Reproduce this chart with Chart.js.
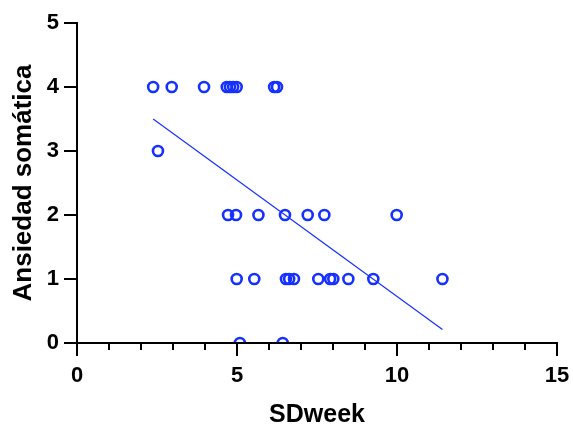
<!DOCTYPE html>
<html>
<head>
<meta charset="utf-8">
<script src="https://cdn.jsdelivr.net/npm/chart.js@4.4.0/dist/chart.umd.min.js"></script>
<style>
  html, body { margin: 0; padding: 0; background: #fff; }
  #wrap { width: 573px; height: 428px; }
</style>
</head>
<body>
<div id="wrap"><canvas id="chart" width="573" height="428"></canvas></div>
<script>
// data
const sdWeek = [2.38, 2.96, 3.97, 4.68, 4.78, 4.88, 4.99, 6.16, 6.25,
                2.53,
                4.72, 4.97, 5.67, 6.50, 7.21, 7.73, 9.99,
                4.99, 5.54, 6.53, 6.63, 6.78, 7.54, 7.91, 8.01, 8.48, 9.26, 11.42,
                5.09, 6.43];
const ansiedad = [4, 4, 4, 4, 4, 4, 4, 4, 4,
                  3,
                  2, 2, 2, 2, 2, 2, 2,
                  1, 1, 1, 1, 1, 1, 1, 1, 1, 1, 1,
                  0, 0];
const fitLine = [{ x: 2.38, y: 3.50 }, { x: 11.42, y: 0.21 }];
const xTicks = [0, 5, 10, 15];
const yTicks = [0, 1, 2, 3, 4, 5];

const blue = 'rgb(22, 48, 255)';
const font = 'Liberation Sans, Arial, Helvetica, sans-serif';

// axis ticks (major + minor) drawn from the scales
const tickPlugin = {
  id: 'ticks',
  afterDraw(chart) {
    const ctx = chart.ctx;
    const x = chart.scales.x, y = chart.scales.y;
    const x0 = x.getPixelForValue(0), y0 = y.getPixelForValue(0);
    ctx.save();
    ctx.strokeStyle = '#000';
    ctx.lineWidth = 2;
    ctx.beginPath();
    ctx.moveTo(x0, y.getPixelForValue(5) - 1);
    ctx.lineTo(x0, y0 + 13);
    ctx.moveTo(x0 - 13, y0);
    ctx.lineTo(x.getPixelForValue(15) + 1, y0);
    for (let v = 0; v <= 15; v++) {
      const px = x.getPixelForValue(v);
      ctx.moveTo(px, y0);
      ctx.lineTo(px, y0 + (v % 5 === 0 ? 13 : 7));
    }
    yTicks.forEach(v => {
      const py = y.getPixelForValue(v);
      ctx.moveTo(x0, py);
      ctx.lineTo(x0 - 13, py);
    });
    ctx.stroke();
    ctx.restore();
  }
};

const points = sdWeek.map((v, i) => ({ x: v, y: ansiedad[i] }));

new Chart(document.getElementById('chart'), {
  type: 'scatter',
  data: {
    datasets: [
      {
        data: fitLine,
        type: 'line',
        borderColor: blue,
        borderWidth: 1.2,
        pointRadius: 0,
        fill: false
      },
      {
        data: points,
        backgroundColor: 'rgba(0,0,0,0)',
        borderColor: blue,
        borderWidth: 2.6,
        pointRadius: 5
      }
    ]
  },
  options: {
    responsive: false,
    animation: false,
    layout: { padding: { left: 4, top: 23, right: 16, bottom: 0 } },
    plugins: { legend: { display: false }, tooltip: { enabled: false } },
    scales: {
      x: {
        type: 'linear', min: 0, max: 15,
        afterBuildTicks: s => { s.ticks = xTicks.map(v => ({ value: v })); },
        grid: { display: false },
        border: { display: false },
        ticks: { color: '#000', padding: 12, maxRotation: 0, font: { family: font, size: 22, weight: 'bold' } },
        title: { display: true, text: 'SDweek', color: '#000', padding: { top: 17, bottom: 0 }, font: { family: font, size: 25, weight: 'bold', lineHeight: 1.0 } },
        afterFit: s => { s.height = 85; s.paddingLeft = 0; s.paddingRight = 0; }
      },
      y: {
        type: 'linear', min: 0, max: 5,
        afterBuildTicks: s => { s.ticks = yTicks.map(v => ({ value: v })); },
        grid: { display: false },
        border: { display: false },
        ticks: { color: '#000', padding: 10, font: { family: font, size: 22, weight: 'bold' } },
        title: { display: true, text: 'Ansiedad somática', color: '#000', padding: { bottom: 0 }, font: { family: font, size: 26, weight: 'bold' } },
        afterFit: s => { s.width = 73; s.paddingTop = 0; s.paddingBottom = 0; }
      }
    }
  },
  plugins: [tickPlugin]
});
</script>
</body>
</html>
